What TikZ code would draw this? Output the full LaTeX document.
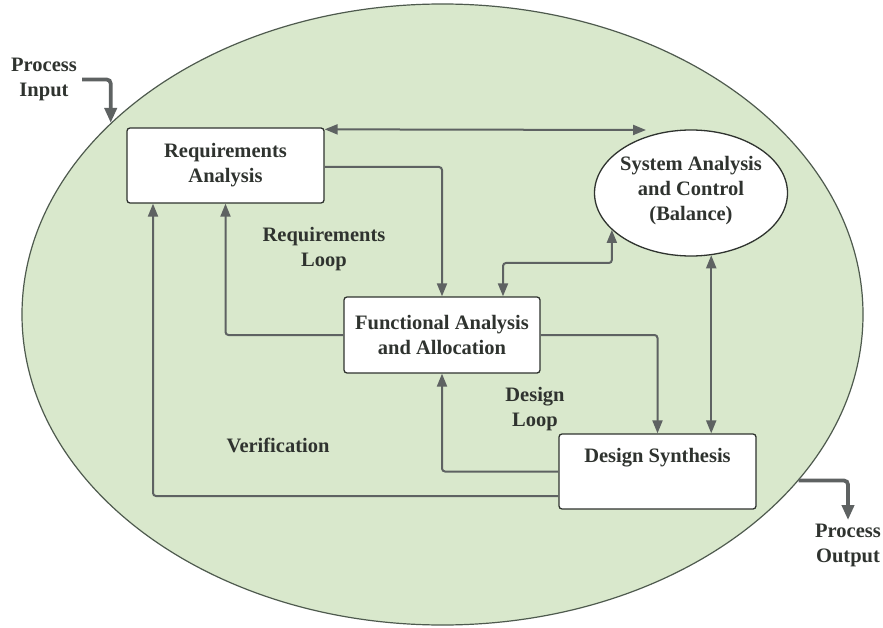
\documentclass[tikz,border=0pt]{standalone}
\usepackage{fontspec}
\setmainfont{Liberation Serif}[BoldFont={Liberation Serif Bold}]
\usetikzlibrary{arrows.meta,shapes.geometric,calc}
\definecolor{envfill}{HTML}{D9E8CC}
\definecolor{envline}{HTML}{4E5A4E}
\definecolor{wire}{HTML}{5E6262}
\definecolor{ink}{HTML}{2F332F}
\begin{document}
\begin{tikzpicture}[x=1pt,y=-1pt,
  font=\fontsize{20.5}{25}\selectfont\bfseries,
  box/.style={draw=ink, line width=1.3pt, fill=white, rounded corners=3pt,
    align=center, text=ink, inner sep=0pt},
  arr/.style={draw=wire, line width=2pt, rounded corners=3pt,
    -{Triangle[length=13pt,width=10pt]}},
  dbl/.style={arr, {Triangle[length=13pt,width=10pt]}-{Triangle[length=13pt,width=10pt]}},
  io/.style={draw=wire, line width=3.8pt, rounded corners=4pt,
    -{Triangle[length=15pt,width=12pt]}},
  lbl/.style={align=center, text=ink}]

\useasboundingbox (0,0) rectangle (883,628);
\fill[white] (0,0) rectangle (883,628);

% system boundary
\node[ellipse, draw=envline, line width=1.2pt, fill=envfill,
      minimum width=841pt, minimum height=621pt, inner sep=0pt] (env) at (442.5,314.5) {};

% process blocks
\node[box, minimum width=197pt, minimum height=75pt] (req) at (225.5,165.5) {Requirements\\Analysis};
\node[box, minimum width=196pt, minimum height=76pt] (fun) at (442,335) {Functional Analysis\\and Allocation};
\node[box, minimum width=197pt, minimum height=75pt] (des) at (657.5,471.5) {Design Synthesis\\\strut};
\node[ellipse, draw=ink, line width=1.3pt, fill=white,
      minimum width=193pt, minimum height=126pt, inner sep=0pt] (sys) at (691,193) {};
\node[lbl] (sysname) at (691,191) {System Analysis\\and Control\\(Balance)};

% loop labels
\node[lbl] (rloop) at (324,249.5) {Requirements\\Loop};
\node[lbl] (dloop) at (535,409.5) {Design\\Loop};
\node[lbl] (verif) at (278,445) {Verification};
\node[lbl, inner sep=5pt] (pin) at (44,79.5) {Process\\Input};
\node[lbl] (pout) at (848,545) {Process\\Output};

\coordinate (sA) at (646,130);
\coordinate (sB) at (sys.205);

% connectors
\draw[dbl] ([yshift=-2pt]req.north east) -- (sA);
\draw[arr] (req.east |- 0,167) -| (fun.north);
\draw[dbl] (fun.north -| 503,0) |- (sB |- 0,263) -- (sB);
\draw[arr] (fun.west) -| (req.south);
\draw[arr] (fun.east) -| (des.north);
\draw[dbl] (sys.288) -- (sys.288 |- des.north);
\draw[arr] (des.west) -| (fun.south);
\draw[arr] (des.west |- 0,496) -| (req.south -| 153,0);

% process input / output
\draw[io] (pin.east) -| (env.150);
\draw[io] (env.335) -| (pout.north);
\end{tikzpicture}
\end{document}
